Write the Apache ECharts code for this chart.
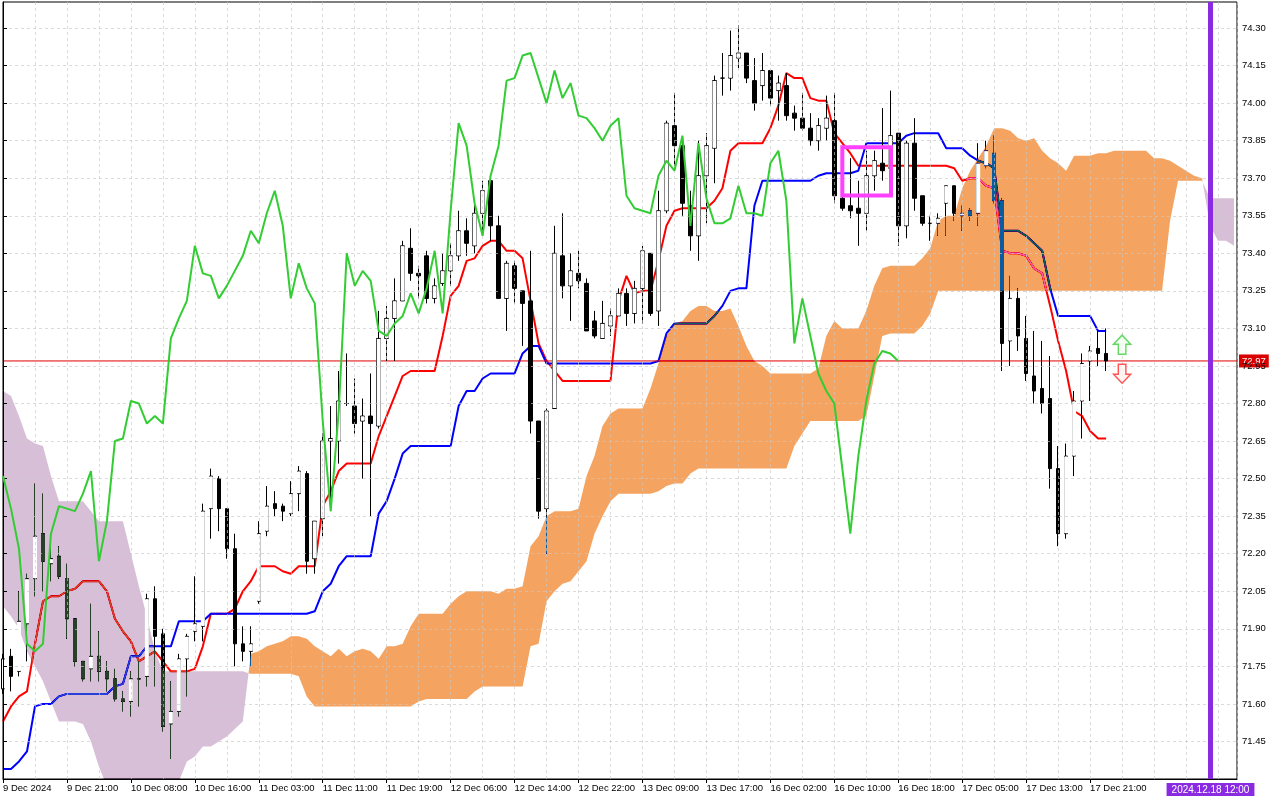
<!DOCTYPE html>
<html>
<head>
<meta charset="utf-8">
<script src="https://cdn.jsdelivr.net/npm/echarts@6/dist/echarts.min.js"></script>
<style>
html,body{margin:0;padding:0;background:#fff;}
#chart{width:1280px;height:800px;}
</style>
</head>
<body>
<div id="chart"></div>
<script>
// ---------------- DATA ----------------
const xLabels = ['9 Dec 2024','9 Dec 21:00','10 Dec 08:00','10 Dec 16:00','11 Dec 03:00','11 Dec 11:00',
  '11 Dec 19:00','12 Dec 06:00','12 Dec 14:00','12 Dec 22:00','13 Dec 09:00','13 Dec 17:00',
  '16 Dec 02:00','16 Dec 10:00','16 Dec 18:00','17 Dec 05:00','17 Dec 13:00','17 Dec 21:00'];
const yLabels = [71.45,71.60,71.75,71.90,72.05,72.20,72.35,72.50,72.65,72.80,72.95,73.10,
  73.25,73.40,73.55,73.70,73.85,74.00,74.15,74.30];

const opens = [71.66,71.79,71.73,71.92,72.10,72.28,72.16,72.19,72.10,71.94,
  71.77,71.74,71.79,71.73,71.70,71.62,71.61,71.70,71.71,72.02,
  71.88,71.52,71.57,71.78,71.89,71.91,72.38,72.50,72.38,72.22,
  71.84,71.81,72.01,72.29,72.40,72.39,72.36,72.44,72.52,72.18,
  72.34,72.65,72.65,72.80,72.79,72.73,72.75,72.71,73.06,73.14,
  73.21,73.42,73.32,73.39,73.22,73.28,73.33,73.39,73.49,73.43,
  73.56,73.69,73.51,73.22,73.35,73.25,73.21,72.73,72.38,72.78,
  73.39,73.27,73.32,73.28,73.13,73.06,73.11,73.15,73.24,73.16,
  73.26,73.40,73.17,73.57,73.91,73.83,73.59,73.47,73.71,73.82,
  74.10,74.10,74.18,74.20,74.09,74.07,74.13,74.05,74.07,73.96,
  73.94,73.90,73.85,73.90,73.93,73.62,73.59,73.58,73.56,73.71,
  73.76,73.74,73.88,73.51,73.84,73.63,73.52,73.52,73.60,73.67,
  73.55,73.57,73.56,73.75,73.80,73.61,73.05,73.22,73.06,72.91,
  72.86,72.82,72.54,72.28,72.59,72.81,72.97,73.02,73.00];
const closes = [71.78,71.71,71.93,72.10,72.27,72.17,72.18,72.11,71.94,71.77,
  71.70,71.79,71.73,71.70,71.62,71.61,71.70,71.70,72.02,71.87,
  71.51,71.57,71.78,71.87,71.92,72.37,72.51,72.38,72.22,71.84,
  71.81,71.84,72.28,72.39,72.38,72.37,72.44,72.53,72.17,72.33,
  72.65,72.66,72.81,72.80,72.72,72.75,72.72,73.06,73.14,73.21,
  73.43,73.32,73.31,73.22,73.27,73.33,73.39,73.49,73.44,73.56,
  73.65,73.51,73.22,73.36,73.26,73.20,72.73,72.37,72.77,73.40,
  73.27,73.33,73.29,73.09,73.07,73.12,73.15,73.24,73.16,73.26,
  73.41,73.16,73.57,73.92,73.83,73.60,73.47,73.71,73.83,74.09,
  74.10,74.19,74.20,74.10,74.00,74.13,74.02,74.08,73.95,73.94,
  73.90,73.85,73.91,73.94,73.63,73.58,73.57,73.56,73.71,73.77,
  73.73,73.87,73.51,73.84,73.62,73.52,73.52,73.54,73.67,73.56,
  73.56,73.55,73.76,73.81,73.61,73.04,73.22,73.07,72.92,72.85,
  72.80,72.54,72.28,72.59,72.81,72.96,73.01,73.00,72.97];
const lows = [71.64,71.65,71.71,71.77,72.03,72.05,72.09,72.10,71.86,71.75,
  71.69,71.69,71.69,71.65,71.61,71.57,71.55,71.59,71.67,71.67,
  71.49,71.38,71.55,71.63,71.85,71.85,72.26,72.29,72.18,71.75,
  71.77,71.75,72.00,72.27,72.35,72.33,72.35,72.37,72.12,72.12,
  72.27,72.37,72.56,72.79,72.68,72.50,72.35,72.70,72.97,72.97,
  73.21,73.29,73.22,73.20,73.20,73.27,73.27,73.37,73.39,73.40,
  73.47,73.45,73.22,73.09,73.20,73.03,72.68,72.34,72.20,72.78,
  73.22,73.13,73.26,73.09,73.06,73.06,73.07,73.15,73.11,73.12,
  73.12,73.15,73.11,73.56,73.75,73.55,73.41,73.37,73.52,73.68,
  74.03,74.05,74.14,74.08,73.97,74.01,73.99,73.93,73.93,73.89,
  73.89,73.83,73.81,73.85,73.60,73.57,73.54,73.43,73.49,73.65,
  73.69,73.73,73.43,73.46,73.57,73.51,73.45,73.47,73.47,73.53,
  73.49,73.53,73.51,73.74,73.60,72.93,72.95,73.01,72.89,72.80,
  72.76,72.46,72.23,72.26,72.51,72.66,72.81,72.95,72.93];
const highs = [71.80,71.82,72.05,72.12,72.48,72.44,72.23,72.23,72.16,71.94,
  71.77,72.00,71.89,71.77,71.74,71.65,71.73,71.77,72.04,72.07,
  71.90,71.69,71.80,71.88,72.11,72.40,72.54,72.51,72.38,72.28,
  71.91,71.91,72.33,72.47,72.45,72.40,72.49,72.55,72.53,72.33,
  72.68,72.79,72.93,73.00,72.90,72.82,72.92,73.17,73.19,73.30,
  73.45,73.50,73.35,73.41,73.30,73.40,73.44,73.57,73.54,73.60,
  73.69,73.69,73.55,73.37,73.37,73.25,73.41,72.73,72.78,73.51,
  73.56,73.40,73.41,73.30,73.17,73.21,73.18,73.26,73.26,73.29,
  73.43,73.40,73.65,73.93,74.04,73.86,73.65,73.85,73.88,74.11,
  74.20,74.29,74.31,74.20,74.18,74.20,74.13,74.11,74.12,73.99,
  74.04,73.96,73.94,74.03,74.04,73.63,73.78,73.69,73.81,73.81,
  73.98,74.05,73.88,73.85,73.94,73.63,73.55,73.56,73.67,73.67,
  73.59,73.58,73.84,73.85,73.87,73.62,73.31,73.26,73.15,73.09,
  73.05,72.99,72.63,72.64,72.85,73.00,73.03,73.09,73.10];

const tenkan = [71.53,71.59,71.63,71.65,71.84,72.01,72.03,72.03,72.05,72.06,
  72.09,72.09,72.09,72.05,71.94,71.89,71.85,71.77,71.79,71.81,
  71.77,71.73,71.73,71.73,71.74,71.83,71.96,71.96,71.96,71.98,
  72.05,72.09,72.15,72.15,72.15,72.13,72.12,72.15,72.15,72.15,
  72.39,72.45,72.53,72.56,72.56,72.56,72.56,72.67,72.75,72.83,
  72.91,72.93,72.93,72.93,72.93,73.07,73.23,73.27,73.37,73.38,
  73.43,73.45,73.45,73.41,73.41,73.38,73.21,73.04,72.97,72.93,
  72.89,72.89,72.89,72.89,72.89,72.89,72.89,73.21,73.31,73.24,
  73.25,73.25,73.37,73.51,73.57,73.58,73.58,73.58,73.58,73.61,
  73.66,73.81,73.84,73.84,73.84,73.84,73.90,73.99,74.12,74.10,
  74.10,74.02,74.01,74.01,73.88,73.84,73.80,73.75,73.75,73.75,
  73.75,73.75,73.75,73.75,73.75,73.75,73.75,73.75,73.75,73.74,
  73.69,73.70,73.70,73.67,73.66,73.41,73.40,73.40,73.39,73.34,
  73.32,73.19,73.05,72.93,72.77,72.75,72.69,72.66,72.66];
const kijun = [71.34,71.34,71.37,71.41,71.59,71.60,71.60,71.63,71.64,71.64,
  71.64,71.64,71.64,71.64,71.67,71.68,71.79,71.79,71.83,71.83,
  71.83,71.83,71.93,71.93,71.93,71.93,71.96,71.96,71.96,71.96,
  71.96,71.96,71.96,71.96,71.96,71.96,71.96,71.96,71.96,71.97,
  72.05,72.08,72.15,72.19,72.19,72.19,72.19,72.36,72.41,72.50,
  72.60,72.63,72.63,72.63,72.63,72.63,72.63,72.79,72.85,72.85,
  72.90,72.92,72.92,72.92,72.92,73.00,73.03,73.03,72.96,72.96,
  72.96,72.96,72.96,72.96,72.96,72.96,72.96,72.96,72.96,72.96,
  72.96,72.96,72.97,73.08,73.12,73.12,73.12,73.12,73.12,73.15,
  73.19,73.25,73.26,73.26,73.59,73.69,73.69,73.69,73.69,73.69,
  73.69,73.69,73.71,73.72,73.72,73.72,73.72,73.73,73.84,73.84,
  73.84,73.84,73.84,73.87,73.88,73.88,73.88,73.88,73.82,73.82,
  73.82,73.79,73.77,73.76,73.74,73.49,73.49,73.49,73.47,73.44,
  73.41,73.26,73.15,73.15,73.15,73.15,73.15,73.09,73.09];
const chikou = [72.51,72.38,72.22,71.84,71.81,71.84,72.28,72.39,72.38,72.37,
  72.44,72.53,72.17,72.33,72.65,72.66,72.81,72.80,72.72,72.75,
  72.72,73.06,73.14,73.21,73.43,73.32,73.31,73.22,73.27,73.33,
  73.39,73.49,73.44,73.56,73.65,73.51,73.22,73.36,73.26,73.20,
  72.73,72.37,72.77,73.40,73.27,73.33,73.29,73.09,73.07,73.12,
  73.15,73.24,73.16,73.26,73.41,73.16,73.57,73.92,73.83,73.60,
  73.47,73.71,73.83,74.09,74.10,74.19,74.20,74.10,74.00,74.13,
  74.02,74.08,73.95,73.94,73.90,73.85,73.91,73.94,73.63,73.58,
  73.57,73.56,73.71,73.77,73.73,73.87,73.51,73.84,73.62,73.52,
  73.52,73.54,73.67,73.56,73.56,73.55,73.76,73.81,73.61,73.04,
  73.22,73.07,72.92,72.85,72.80,72.54,72.28,72.59,72.81,72.96,
  73.01,73.00,72.97];
const spanA = [71.99,71.95,71.90,71.81,71.75,71.69,71.61,71.53,71.53,71.53,
  71.52,71.45,71.35,71.27,71.21,71.21,71.21,71.21,71.21,71.21,
  71.21,71.25,71.29,71.37,71.39,71.43,71.43,71.45,71.47,71.50,
  71.53,71.80,71.81,71.83,71.84,71.85,71.87,71.87,71.86,71.83,
  71.81,71.79,71.82,71.79,71.81,71.82,71.81,71.78,71.83,71.83,
  71.84,71.91,71.96,71.96,71.96,71.96,72.00,72.03,72.05,72.05,
  72.05,72.05,72.04,72.06,72.06,72.07,72.23,72.27,72.35,72.37,
  72.37,72.37,72.38,72.51,72.59,72.71,72.76,72.78,72.78,72.78,
  72.78,72.86,72.96,73.07,73.12,73.13,73.17,73.19,73.19,73.17,
  73.17,73.18,73.11,73.03,72.97,72.95,72.92,72.92,72.92,72.92,
  72.92,72.92,72.94,73.07,73.13,73.10,73.10,73.10,73.17,73.27,
  73.34,73.35,73.35,73.35,73.35,73.38,73.42,73.53,73.55,73.55,
  73.66,73.73,73.78,73.83,73.90,73.90,73.89,73.86,73.85,73.86,
  73.81,73.78,73.76,73.73,73.79,73.79,73.79,73.80,73.80,73.81,
  73.81,73.81,73.81,73.81,73.78,73.78,73.77,73.75,73.73,73.71,
  73.70,73.51,73.45,73.45,73.43];
const spanB = [72.85,72.83,72.75,72.66,72.64,72.63,72.51,72.41,72.41,72.41,
  72.41,72.37,72.33,72.33,72.33,72.33,72.20,72.07,71.95,71.81,
  71.73,71.73,71.73,71.73,71.73,71.73,71.73,71.73,71.73,71.73,
  71.73,71.72,71.72,71.72,71.72,71.72,71.72,71.71,71.63,71.59,
  71.59,71.59,71.59,71.59,71.59,71.59,71.59,71.59,71.59,71.59,
  71.59,71.59,71.61,71.62,71.62,71.62,71.62,71.62,71.62,71.65,
  71.67,71.67,71.67,71.67,71.67,71.67,71.83,71.84,72.01,72.05,
  72.08,72.09,72.13,72.17,72.28,72.35,72.41,72.44,72.44,72.44,
  72.44,72.44,72.45,72.47,72.48,72.48,72.52,72.54,72.54,72.54,
  72.54,72.54,72.54,72.54,72.54,72.54,72.54,72.54,72.54,72.63,
  72.68,72.73,72.73,72.73,72.73,72.73,72.73,72.73,72.75,72.91,
  73.07,73.08,73.08,73.08,73.08,73.11,73.16,73.25,73.25,73.25,
  73.25,73.25,73.25,73.25,73.25,73.25,73.25,73.25,73.25,73.25,
  73.25,73.25,73.25,73.25,73.25,73.25,73.25,73.25,73.25,73.25,
  73.25,73.25,73.25,73.25,73.25,73.25,73.53,73.69,73.69,73.69,
  73.69,73.62,73.62,73.62,73.62];

const lastPrice = 72.97;
const nowBar = 151.06;
const nowLabel = '2024.12.18 12:00';
const boxCorners = [[105, 73.824], [111.09, 73.631]];
const arrowBar = 140;
const arrowUpPrice = 73.035;
const arrowDownPrice = 72.919;

// ---------------- CHART ----------------
const FONT = "'Liberation Sans', Arial, sans-serif";
const X_MAX = 154.375;
const xTickBars = xLabels.map((_, k) => k * 8);
const candleRows = opens.map((o, i) => [i, o, closes[i], lows[i], highs[i]]);
const pairs = arr => arr.map((v, i) => [i, v]);

function cloudRuns(upper, lower) {
  const runs = [];
  let top = null, bot = null;
  const n = upper.length;
  for (let i = 0; i < n; i++) {
    const d = upper[i] - lower[i];
    if (d >= 0) {
      if (!top) { top = []; bot = []; }
      top.push([i, upper[i]]); bot.push([i, lower[i]]);
    }
    if (i < n - 1) {
      const d2 = upper[i + 1] - lower[i + 1];
      if ((d >= 0) !== (d2 >= 0)) {
        const t = d / (d - d2);
        const pt = [i + t, upper[i] + t * (upper[i + 1] - upper[i])];
        if (d >= 0) { top.push(pt); runs.push(top.concat(bot.reverse())); top = bot = null; }
        else { top = [pt]; bot = [pt]; }
      }
    }
  }
  if (top) runs.push(top.concat(bot.reverse()));
  return runs;
}
const orangeRuns = cloudRuns(spanA, spanB);
const purpleRuns = cloudRuns(spanB, spanA);

const gridLine = { show: true, lineStyle: { color: 'rgba(200,200,200,0.65)', width: 1, type: [3, 3] } };

const chart = echarts.init(document.getElementById('chart'), null, { renderer: 'canvas' });
chart.setOption({
  backgroundColor: '#ffffff',
  animation: false,
  textStyle: { fontFamily: FONT },
  grid: { left: 2, top: 2, width: 1235, height: 777, show: true, borderColor: '#000', borderWidth: 1, backgroundColor: 'rgba(0,0,0,0)' },
  xAxis: [
    { type: 'value', min: 0, max: X_MAX, interval: 4, position: 'bottom', z: 4,
      axisLine: { show: false }, axisTick: { show: false }, axisLabel: { show: false },
      splitLine: gridLine },
    { type: 'value', min: 0, max: X_MAX, interval: 8, position: 'bottom', z: 4,
      axisLine: { show: true, lineStyle: { color: '#000' } },
      axisTick: { show: true, length: 4, customValues: xTickBars, lineStyle: { color: '#000' } },
      axisLabel: { show: true, customValues: xTickBars, align: 'left', margin: 4, color: '#000', fontSize: 9.5, fontFamily: FONT,
        formatter: v => (Math.abs(v / 8 - Math.round(v / 8)) < 1e-6 && xLabels[Math.round(v / 8)]) || '' },
      splitLine: { show: false } }
  ],
  yAxis: {
    type: 'value', position: 'right', min: 71.30, max: 74.404, interval: 0.15, z: 4,
    axisLine: { show: true, lineStyle: { color: '#000' } },
    axisTick: { show: true, length: 4, customValues: yLabels, lineStyle: { color: '#000' } },
    axisLabel: { customValues: yLabels, margin: 5, color: '#000', fontSize: 9.5, fontFamily: FONT,
      formatter: v => v.toFixed(2) },
    splitLine: gridLine
  },
  series: [
    { type: 'candlestick', name: 'candles', data: candleRows, barWidth: 4, z: 1, silent: true,
      itemStyle: { color: '#ffffff', color0: '#000000', borderColor: '#000000', borderColor0: '#000000', borderColorDoji: '#000000', borderWidth: 1 } },
    { type: 'line', name: 'tenkan', data: pairs(tenkan), symbol: 'none', z: 1, silent: true,
      lineStyle: { color: '#ff0000', width: 2 }, itemStyle: { color: '#ff0000' } },
    { type: 'line', name: 'kijun', data: pairs(kijun), symbol: 'none', z: 1, silent: true,
      lineStyle: { color: '#0000ff', width: 2 }, itemStyle: { color: '#0000ff' } },
    { type: 'line', name: 'bid', data: [[0, lastPrice], [X_MAX, lastPrice]], symbol: 'none', z: 1, silent: true,
      clip: false,
      lineStyle: { color: '#e00000', width: 1, type: 'solid' }, itemStyle: { color: '#e00000' },
      endLabel: { show: true, distance: 2, formatter: lastPrice.toFixed(2), color: '#ffffff',
        backgroundColor: '#d80000', padding: [2, 3, 1, 3], fontSize: 9.5, fontFamily: FONT } },
    { type: 'custom', name: 'cloud', z: 2, silent: true, clip: true, blendMode: 'difference',
      data: spanA.map((a, i) => [i, a, spanB[i]]), encode: { x: 0, y: [1, 2] },
      renderItem: (params, api) => {
        if (params.dataIndex !== 0) return null;
        const children = [];
        orangeRuns.forEach(run => children.push({ type: 'polygon', shape: { points: run.map(p => api.coord(p)) }, style: { fill: 'rgb(11,91,159)' } }));
        purpleRuns.forEach(run => children.push({ type: 'polygon', shape: { points: run.map(p => api.coord(p)) }, style: { fill: 'rgb(39,64,39)' } }));
        return { type: 'group', children };
      } },
    { type: 'custom', name: 'bodyfill', z: 3, silent: true, clip: true,
      data: candleRows, encode: { x: 0, y: [1, 2] },
      renderItem: (params, api) => {
        const o = api.value(1), c = api.value(2);
        if (!(c > o)) return null;
        const t = api.coord([api.value(0), c]);
        const b = api.coord([api.value(0), o]);
        const h = b[1] - t[1] - 1;
        if (h <= 0) return null;
        return { type: 'rect', shape: { x: t[0] - 2, y: t[1] + 0.5, width: 4, height: h }, style: { fill: '#ffffff' } };
      } },
    { type: 'line', name: 'chikou', data: pairs(chikou), symbol: 'none', z: 5, silent: true,
      lineStyle: { color: '#32cd32', width: 2 }, itemStyle: { color: '#32cd32' },
      markLine: { silent: true, z: 6, symbol: ['none', 'none'], animation: false,
        data: [{ xAxis: nowBar }],
        lineStyle: { color: '#8a2be2', width: 5, type: 'solid' },
        label: { show: true, position: 'start', distance: 4, formatter: nowLabel, color: '#fff',
          backgroundColor: '#8a2be2', padding: [2, 5, 1, 5], fontSize: 10, fontFamily: FONT } },
      markArea: { silent: true, z: 6,
        itemStyle: { color: 'rgba(0,0,0,0)', borderColor: '#ff40ff', borderWidth: 4 },
        data: [[{ xAxis: boxCorners[0][0], yAxis: boxCorners[0][1] }, { xAxis: boxCorners[1][0], yAxis: boxCorners[1][1] }]] } },
    { type: 'scatter', name: 'arrows', z: 6, silent: true,
      data: [
        { value: [arrowBar, arrowUpPrice], symbol: 'path://M9,0 L18,9 L13,9 L13,19 L5,19 L5,9 L0,9 Z',
          itemStyle: { color: '#f4fff0', borderColor: '#3ccf3c', borderWidth: 1.5 } },
        { value: [arrowBar, arrowDownPrice], symbol: 'path://M5,0 L13,0 L13,10 L18,10 L9,19 L0,10 L5,10 Z',
          itemStyle: { color: '#fff4f0', borderColor: '#ff2a2a', borderWidth: 1.5 } }
      ],
      symbolSize: [17, 19] }
  ]
});
</script>
</body>
</html>
